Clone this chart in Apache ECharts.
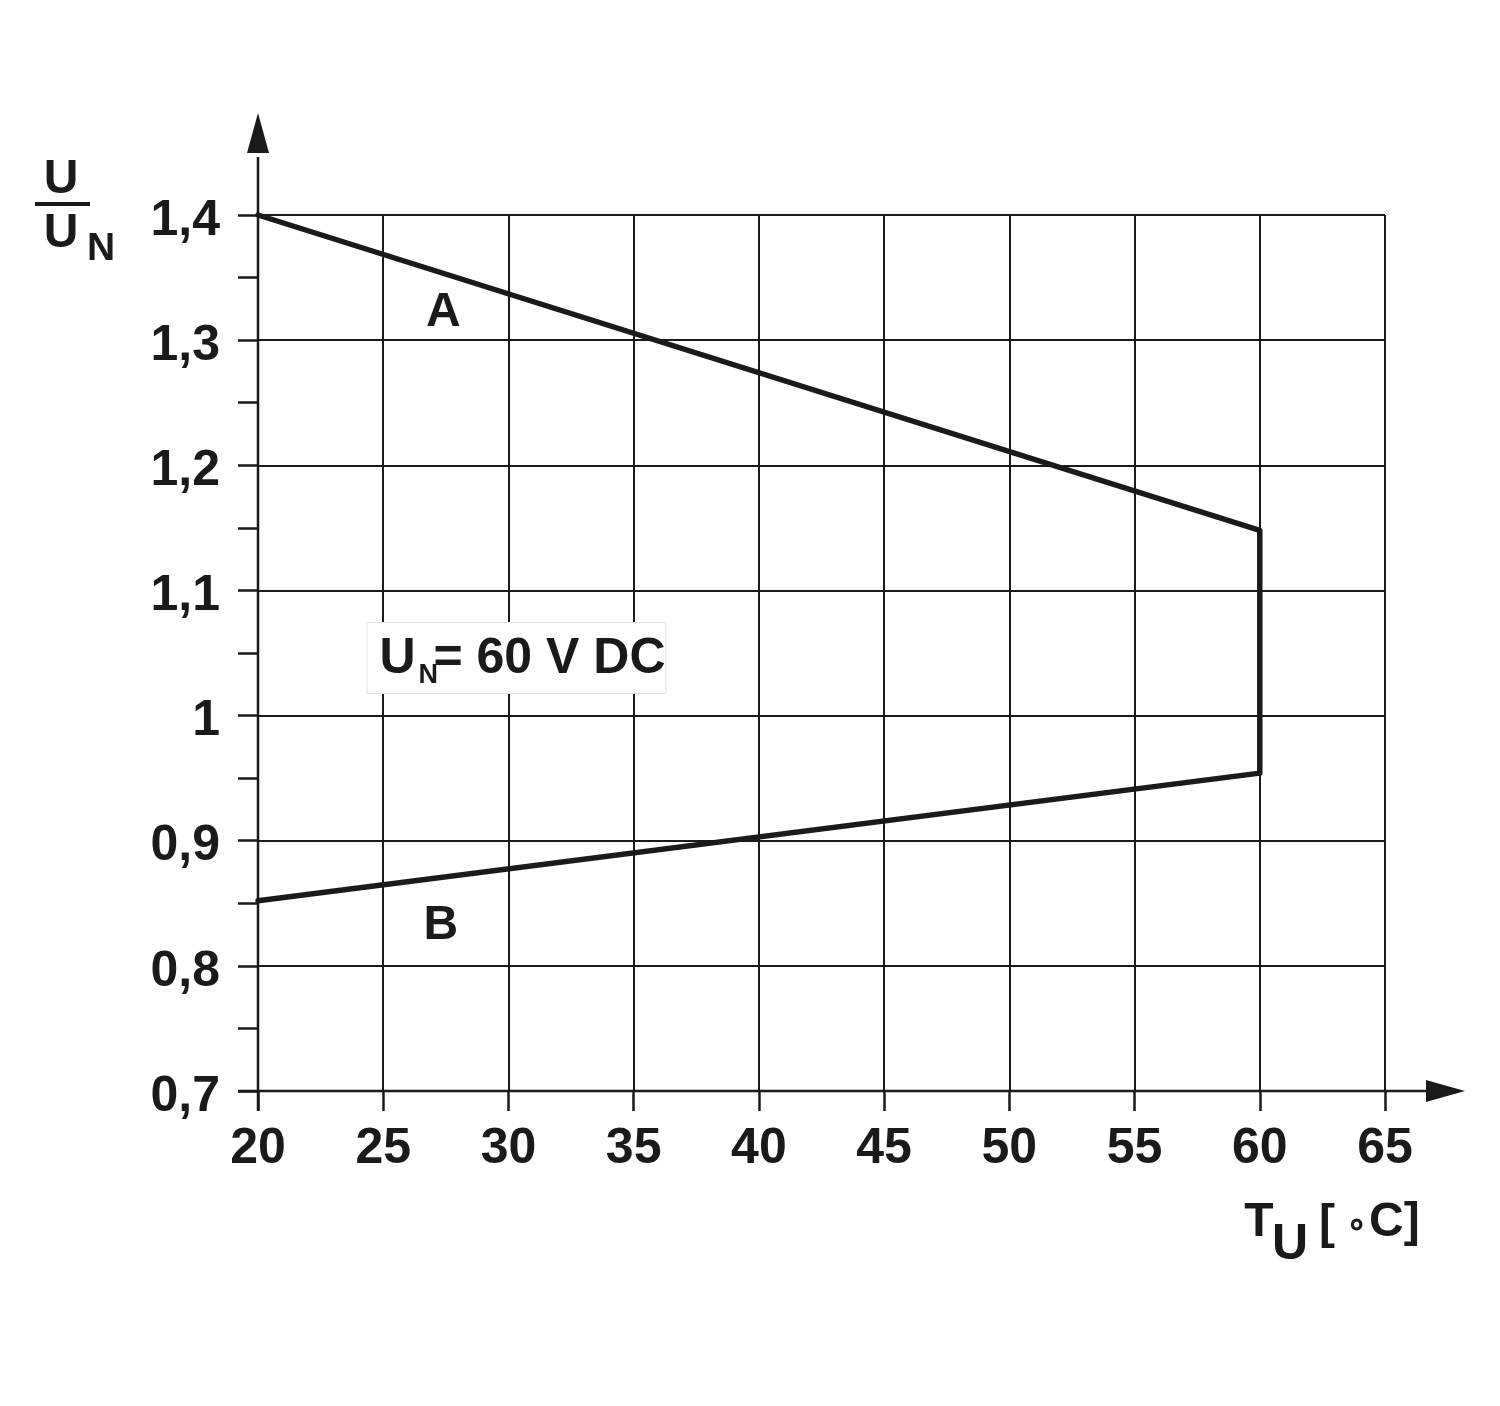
<!DOCTYPE html>
<html><head><meta charset="utf-8">
<script src="https://cdn.jsdelivr.net/npm/echarts@6/dist/echarts.min.js"></script>
<style>html,body{margin:0;padding:0;background:#fff}#c{width:1500px;height:1406px}</style>
</head><body><div id="c"></div>
<script>
// ---- data ----
const xTickValues = [20, 25, 30, 35, 40, 45, 50, 55, 60, 65];
const yTickValues = [0.7, 0.8, 0.9, 1.0, 1.1, 1.2, 1.3, 1.4];
const yTickLabels = ['0,7', '0,8', '0,9', '1', '1,1', '1,2', '1,3', '1,4'];
const curveT = [20, 60, 60, 20];          // ambient temperature °C
const curveU = [1.4, 1.148, 0.954, 0.852]; // U / U_N
const curveNames = ['A', 'B'];
const curveNameT = [27.4, 27.3];
const curveNameU = [1.322, 0.832];
const noteT = 30.32, noteU = 1.046;

const FONT = "'Liberation Sans', Arial, Helvetica, sans-serif";
const INK = '#1a1a1a';

const chart = echarts.init(document.getElementById('c'), null, {renderer: 'canvas'});
const lineData = curveT.map((t, i) => [t, curveU[i]]);

chart.setOption({
  backgroundColor: '#fff',
  animation: false,
  grid: {left: 258, right: 115, top: 215, bottom: 315, containLabel: false},
  xAxis: {
    type: 'value', min: xTickValues[0], max: xTickValues[xTickValues.length - 1], interval: 5,
    axisLine: {show: false},
    axisTick: {show: true, length: 20, lineStyle: {color: INK, width: 2.5}},
    splitLine: {show: true, lineStyle: {color: INK, width: 2}},
    axisLabel: {margin: 58, verticalAlign: 'middle', color: INK, fontSize: 50, fontWeight: 'bold', fontFamily: FONT,
      formatter: v => String(v)}
  },
  yAxis: {
    type: 'value', min: yTickValues[0], max: yTickValues[yTickValues.length - 1], interval: 0.1,
    axisLine: {show: false},
    axisTick: {show: true, length: 20, lineStyle: {color: INK, width: 2.5}},
    minorTick: {show: true, splitNumber: 2, length: 20, lineStyle: {color: INK, width: 2.5}},
    splitLine: {show: true, lineStyle: {color: INK, width: 2}},
    axisLabel: {margin: 38, align: 'right', verticalAlign: 'middle',
      color: INK, fontSize: 50, fontWeight: 'bold', fontFamily: FONT,
      rich: {a: {color: INK, fontSize: 50, fontWeight: 'bold', fontFamily: FONT, padding: [12, 0, 0, 0]}},
      formatter: v => {
        const i = yTickValues.findIndex(t => Math.abs(t - v) < 1e-6);
        return i >= 0 ? '{a|' + yTickLabels[i] + '}' : '';
      }}
  },
  series: [{
    type: 'line', data: lineData, showSymbol: false, symbol: 'none', clip: false,
    lineStyle: {color: INK, width: 5.5, join: 'round', cap: 'round'}
  }]
});

function px(t, u) { return chart.convertToPixel({gridIndex: 0}, [t, u]); }
const p0 = px(xTickValues[0], yTickValues[0]);
const p1 = px(xTickValues[xTickValues.length - 1], yTickValues[yTickValues.length - 1]);
const nc = px(noteT, noteU);

const txt = (text, x, y, size, align) => ({
  type: 'text', silent: true,
  style: {text: text, x: x, y: y, fill: INK, font: 'bold ' + size + 'px ' + FONT,
    align: align || 'center', verticalAlign: 'middle'}
});

const g = [];
// axes with arrows
g.push({type: 'line', silent: true, shape: {x1: p0[0] - 20, y1: p0[1], x2: p1[0] + 45, y2: p0[1]}, style: {stroke: INK, lineWidth: 2.5}});
g.push({type: 'polygon', silent: true, shape: {points: [[p1[0] + 41, p0[1] - 11], [p1[0] + 80, p0[1]], [p1[0] + 41, p0[1] + 11]]}, style: {fill: INK}});
g.push({type: 'line', silent: true, shape: {x1: p0[0], y1: p0[1] + 20, x2: p0[0], y2: p1[1] - 58}, style: {stroke: INK, lineWidth: 2.5}});
g.push({type: 'polygon', silent: true, shape: {points: [[p0[0] - 11, p1[1] - 62], [p0[0], p1[1] - 102], [p0[0] + 11, p1[1] - 62]]}, style: {fill: INK}});
// curve names
curveNames.forEach((n, i) => {
  const p = px(curveNameT[i], curveNameU[i]);
  g.push(txt(n, p[0], p[1], 48));
});
// note box
g.push({type: 'rect', silent: true, shape: {x: nc[0] - 149.5, y: nc[1] - 35.5, width: 299, height: 71}, style: {fill: '#fff', stroke: '#e2e2e2', lineWidth: 1}});
g.push(txt('U', nc[0] - 137, nc[1] + 1, 50, 'left'));
g.push(txt('N', nc[0] - 98, nc[1] + 18, 27, 'left'));
g.push(txt('= 60 V DC', nc[0] - 83, nc[1] + 1, 50, 'left'));
// y axis title
g.push(txt('U', 61, 180, 48));
g.push({type: 'line', silent: true, shape: {x1: 35, y1: 204, x2: 90, y2: 204}, style: {stroke: INK, lineWidth: 4}});
g.push(txt('U', 61, 234, 48));
g.push(txt('N', 87, 249, 39, 'left'));
// x axis title
g.push(txt('T', 1259, 1223, 48));
g.push(txt('U', 1290, 1245, 50));
g.push(txt('[', 1319, 1225, 48, 'left'));
g.push(txt('\u2218', 1356, 1226, 34));
g.push(txt('C]', 1369, 1223, 48, 'left'));

chart.setOption({graphic: g});
</script>
</body></html>
